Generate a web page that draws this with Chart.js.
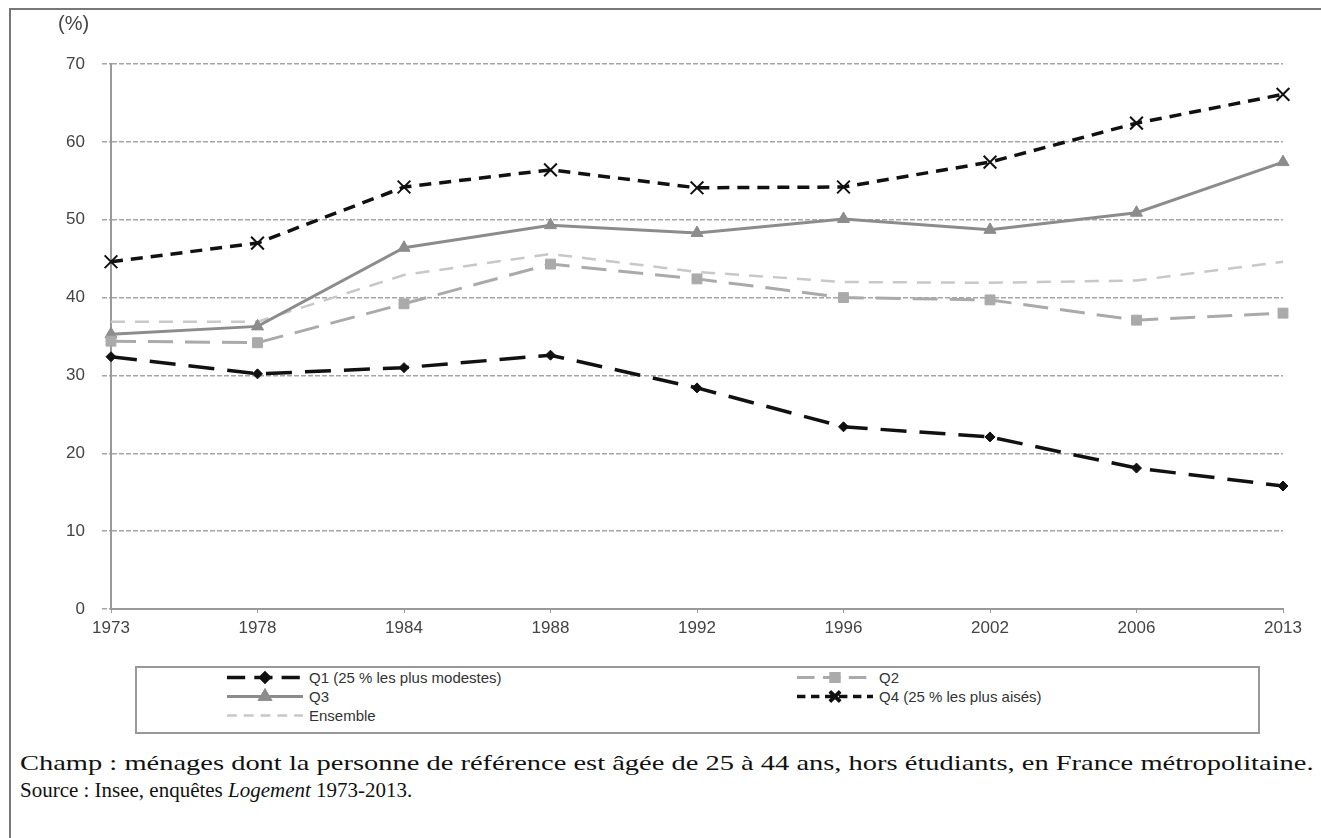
<!DOCTYPE html>
<html lang="fr">
<head>
  <meta charset="UTF-8" />
  <title>Propriétaires par quartile</title>
  <script src="https://cdn.jsdelivr.net/npm/chart.js"></script>
  <style>
    body {
      margin: 0;
      background: white;
      font-family: Arial, 'Liberation Sans', sans-serif;
    }

    #frame {
      position: absolute;
      left: 9px;
      top: 8px;
      width: 1312px;
      height: 830px;
      border-top: 2px solid #777;
      border-left: 2px solid #777;
    }

    #wrap {
      position: absolute;
      left: 0;
      top: 0;
      width: 1321px;
      height: 655px;
    }

    #unit {
      position: absolute;
      left: 58px;
      top: 12px;
      font-size: 20px;
      color: #444;
    }

    #legend {
      position: absolute;
      left: 135px;
      top: 666px;
      width: 1125px;
      height: 68px;
      border: 2px solid #999;
      box-sizing: border-box;
      font-size: 15px;
      color: #333;
    }

    .item {
      position: absolute;
      display: flex;
      align-items: center;
      height: 19px;
    }

    .item span { margin-left: 6px; }

    .note {
      position: absolute;
      left: 20px;
      font-family: 'Liberation Serif', 'Times New Roman', serif;
      font-size: 22px;
      color: #111;
      white-space: nowrap;
      transform-origin: left center;
    }
  </style>
</head>
<body>
  <div id="frame"></div>
  <div id="wrap"><canvas id="chart" width="1321" height="655"></canvas></div>
  <div id="unit">(%)</div>
  <div id="legend"></div>
  <div class="note" id="note1" style="top:750px">Champ : ménages dont la personne de référence est âgée de 25 à 44 ans, hors étudiants, en France métropolitaine.</div>
  <div class="note" id="note2" style="top:777px">Source : Insee, enquêtes <i>Logement</i> 1973-2013.</div>

  <script>
    const years = ["1973", "1978", "1984", "1988", "1992", "1996", "2002", "2006", "2013"];

    const q1 = [32.4, 30.2, 31.0, 32.6, 28.4, 23.4, 22.1, 18.1, 15.8];
    const q2 = [34.4, 34.2, 39.2, 44.3, 42.4, 40.0, 39.7, 37.1, 38.0];
    const q3 = [35.3, 36.3, 46.4, 49.3, 48.3, 50.1, 48.7, 50.9, 57.4];
    const q4 = [44.6, 47.0, 54.2, 56.4, 54.1, 54.2, 57.4, 62.4, 66.1];
    const ensemble = [36.9, 36.9, 42.9, 45.6, 43.3, 42.0, 41.9, 42.2, 44.6];

    const datasets = [
      { label: "Q1 (25 % les plus modestes)", data: q1, borderColor: "#111", backgroundColor: "#111",
        borderWidth: 3.5, borderDash: [26, 13], pointStyle: "rectRot", pointRadius: 5, pointBorderWidth: 1 },
      { label: "Q2", data: q2, borderColor: "#aaa", backgroundColor: "#aaa",
        borderWidth: 3, borderDash: [25, 12], pointStyle: "rect", pointRadius: 7, pointBorderWidth: 1 },
      { label: "Q3", data: q3, borderColor: "#8c8c8c", backgroundColor: "#8c8c8c",
        borderWidth: 3, pointStyle: "triangle", pointRadius: 7, pointBorderWidth: 1 },
      { label: "Q4 (25 % les plus aisés)", data: q4, borderColor: "#111", backgroundColor: "#111",
        borderWidth: 3.5, borderDash: [12, 8], pointStyle: "crossRot", pointRadius: 9, pointBorderWidth: 2 },
      { label: "Ensemble", data: ensemble, borderColor: "#c8c8c8", backgroundColor: "#c8c8c8",
        borderWidth: 2.5, borderDash: [14, 10], pointRadius: 0 }
    ];

    // legend positions: two columns, Ensemble alone on third row
    const legendPos = [[90, 0], [660, 0], [90, 19], [660, 19], [90, 38]];

    function drawLegend() {
      const box = document.getElementById("legend");
      datasets.forEach((ds, i) => {
        const el = document.createElement("div");
        el.className = "item";
        el.style.left = legendPos[i][0] + "px";
        el.style.top = legendPos[i][1] + "px";
        const c = document.createElement("canvas");
        c.width = 76; c.height = 19;
        const ctx = c.getContext("2d");
        ctx.strokeStyle = ds.borderColor;
        ctx.lineWidth = ds.borderWidth;
        ctx.setLineDash(ds.borderDash ? ds.borderDash.map(v => v * 0.7) : []);
        ctx.beginPath();
        ctx.moveTo(0, 9.5);
        ctx.lineTo(76, 9.5);
        ctx.stroke();
        ctx.setLineDash([]);
        if (ds.pointRadius > 0) {
          Chart.helpers.drawPoint(ctx, {
            pointStyle: ds.pointStyle, radius: ds.pointRadius * 0.8, borderWidth: ds.pointBorderWidth, rotation: 0
          }, 38, 9.5);
          ctx.fillStyle = ds.backgroundColor;
          ctx.fill();
          ctx.stroke();
        }
        el.appendChild(c);
        const t = document.createElement("span");
        t.textContent = ds.label;
        el.appendChild(t);
        box.appendChild(el);
      });
    }

    // stretch/squeeze a footnote line to the width it has in the original
    function fitNote(id, width) {
      const el = document.getElementById(id);
      el.style.transform = "scaleX(" + (width / el.offsetWidth) + ")";
    }

    window.onload = () => {
      new Chart(document.getElementById("chart"), {
        type: "line",
        data: { labels: years, datasets },
        options: {
          responsive: false,
          animation: false,
          layout: { padding: { left: 0, right: 38, top: 64, bottom: 0 } },
          plugins: { legend: { display: false }, tooltip: { enabled: false } },
          scales: {
            x: {
              offset: false,
              grid: { drawOnChartArea: false, drawTicks: true, tickLength: 4, color: "#999" },
              border: { display: true, color: "#999", width: 2 },
              ticks: { color: "#444", font: { family: "Arial", size: 17 }, padding: 5, maxRotation: 0 },
              afterFit: (s) => { s.height = 46; }
            },
            y: {
              min: 0,
              max: 70,
              ticks: { stepSize: 10, color: "#444", font: { family: "Arial", size: 17 }, padding: 17 },
              grid: { color: "#a5a5a5", lineWidth: 1.5, tickLength: 9, tickColor: "#a5a5a5",
                      tickBorderDash: [5, 2] },
              border: { display: true, color: "#999", width: 2, dash: [5, 2] },
              afterFit: (s) => { s.width = 111; }
            }
          }
        }
      });
      drawLegend();
      fitNote("note1", 1293);
      fitNote("note2", 392);
    };
  </script>
</body>
</html>
